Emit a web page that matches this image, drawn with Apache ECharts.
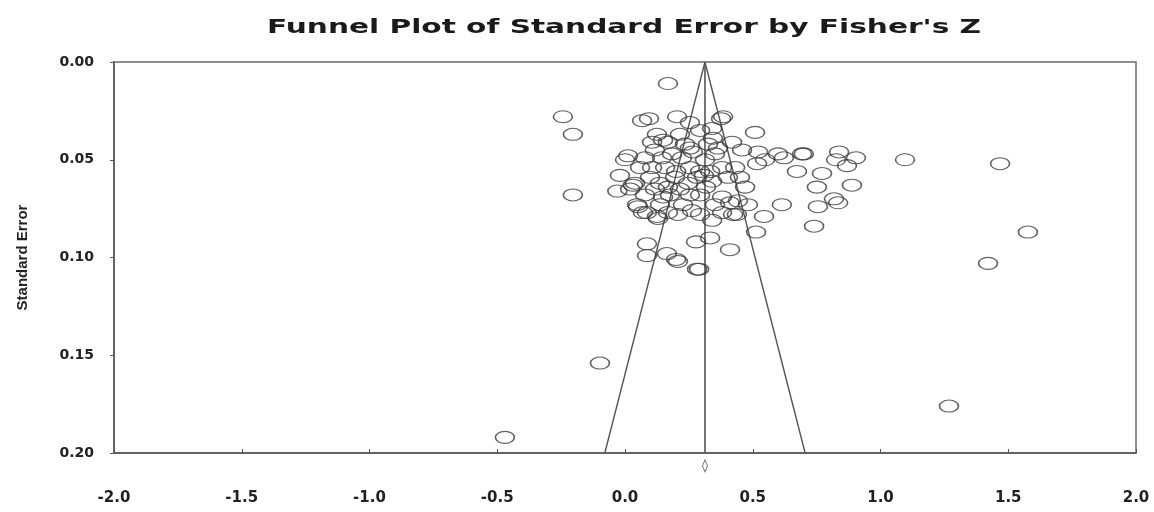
<!DOCTYPE html>
<html>
<head>
<meta charset="utf-8">
<script src="https://cdn.jsdelivr.net/npm/echarts@6/dist/echarts.min.js"></script>
<style>html,body{margin:0;padding:0;background:#fff;}#c{width:1154px;height:512px;}</style>
</head>
<body>
<div id="c"></div>
<script>
const fisherZ = [0.168,-0.243,-0.204,-0.204,1.468,1.096,1.577,1.421,1.268,-0.098,-0.470,0.384,0.376,0.509,0.521,0.548,0.599,0.622,0.693,0.700,0.838,0.904,0.826,0.869,0.673,0.771,0.751,0.888,0.818,0.834,0.755,0.614,0.544,0.513,0.740,0.423,0.470,0.517,0.333,0.411,0.086,0.086,0.164,0.200,0.207,0.278,0.282,0.290,0.067,0.094,0.204,0.254,0.344,0.125,0.149,0.106,0.168,0.012,0.254,0.266,0.078,0.145,0.184,0.223,0.059,0.106,0.157,0.313,0.352,0.380,0.039,0.196,0.247,0.341,0.403,0.020,0.031,0.051,0.086,0.129,0.149,0.176,0.047,0.070,0.125,0.438,0.411,0.227,0.262,0.294,0.317,0.352,0.380,0.450,0.431,0.458,0.419,0.364,0.325,0.294,0.254,0.215,0.254,0.117,0.078,0.137,0.168,0.207,0.294,0.341,0.380,0.442,0.481,-0.020,0.000,0.098,0.137,-0.030,0.294,0.341,0.215,0.235,0.117,0.282,0.309,0.200,0.168,0.333];
const standardError = [0.011,0.028,0.037,0.068,0.052,0.050,0.087,0.103,0.176,0.154,0.192,0.028,0.029,0.036,0.046,0.050,0.047,0.049,0.047,0.047,0.046,0.049,0.050,0.053,0.056,0.057,0.064,0.063,0.070,0.072,0.074,0.073,0.079,0.087,0.084,0.078,0.064,0.052,0.090,0.096,0.093,0.099,0.098,0.101,0.102,0.092,0.106,0.106,0.030,0.029,0.028,0.031,0.039,0.037,0.040,0.041,0.041,0.048,0.044,0.046,0.049,0.049,0.047,0.049,0.054,0.054,0.054,0.050,0.047,0.054,0.062,0.059,0.062,0.061,0.059,0.065,0.063,0.074,0.077,0.080,0.069,0.068,0.073,0.077,0.079,0.078,0.072,0.073,0.076,0.068,0.064,0.073,0.069,0.059,0.054,0.045,0.041,0.044,0.042,0.056,0.054,0.065,0.068,0.065,0.068,0.073,0.077,0.078,0.078,0.081,0.077,0.071,0.073,0.058,0.050,0.059,0.062,0.066,0.035,0.034,0.037,0.042,0.045,0.059,0.058,0.056,0.064,0.056];
const funnelZ = [-0.079, 0.313, 0.705];
const funnelSE = [0.2, 0, 0.2];
const centerZ = [0.313, 0.313];
const centerSE = [0, 0.2];
const summaryZ = [0.313];
const summarySE = [0.2066];
const xTickLabels = ['-2.0','-1.5','-1.0','-0.5','0.0','0.5','1.0','1.5','2.0'];
const yTickLabels = ['0.00','0.05','0.10','0.15','0.20'];

const pts = fisherZ.map((z, i) => [z, standardError[i]]);
const chart = echarts.init(document.getElementById('c'));
chart.setOption({
  animation: false,
  backgroundColor: '#fff',
  graphic: [{
    type: 'text',
    x: 624, y: 28,
    scaleX: 1.48,
    style: {
      text: "Funnel Plot of Standard Error by Fisher's Z",
      font: 'bold 20px "DejaVu Sans", Arial, sans-serif',
      fill: '#1a1a1a',
      align: 'center',
      verticalAlign: 'middle'
    }
  }],
  grid: {left: 114, right: 18, top: 62, bottom: 59, show: true, borderColor: '#6a6a6a', borderWidth: 1.5, backgroundColor: 'transparent'},
  xAxis: {
    type: 'value', min: -2, max: 2, interval: 0.5,
    axisLine: {show: true, onZero: false, lineStyle: {color: '#555', width: 1.5}},
    axisTick: {show: true, inside: true, length: 4, lineStyle: {color: '#555'}},
    splitLine: {show: false},
    axisLabel: {margin: 38, fontFamily: '"DejaVu Sans", Arial, sans-serif', fontWeight: 'bold', fontSize: 15, color: '#222',
      formatter: (v, i) => xTickLabels[i]}
  },
  yAxis: {
    type: 'value', inverse: true, min: 0, max: 0.2, interval: 0.05,
    name: 'Standard Error', nameLocation: 'middle', nameGap: 84, nameRotate: 90,
    nameTextStyle: {fontFamily: '"Liberation Sans Narrow", "Liberation Sans", Arial, sans-serif', fontWeight: 'bold', fontSize: 15, color: '#222'},
    axisLine: {show: true, onZero: false, lineStyle: {color: '#555', width: 1.5}},
    axisTick: {show: true, length: 4, lineStyle: {color: '#555'}},
    splitLine: {show: false},
    axisLabel: {margin: 20, fontFamily: '"DejaVu Sans", Arial, sans-serif', fontWeight: 'bold', fontSize: 14, color: '#222',
      formatter: (v, i) => yTickLabels[i]}
  },
  series: [
    {type: 'line', data: funnelZ.map((z, i) => [z, funnelSE[i]]), symbol: 'none',
      lineStyle: {color: '#555', width: 1.4}, z: 3},
    {type: 'line', data: centerZ.map((z, i) => [z, centerSE[i]]), symbol: 'none',
      lineStyle: {color: '#555', width: 1.6}, z: 3},
    {type: 'scatter', data: pts, symbol: 'circle', symbolSize: [19, 12],
      itemStyle: {color: 'rgba(0,0,0,0)', borderColor: '#3a3a3a', borderWidth: 1.3}, z: 4},
    {type: 'scatter', data: summaryZ.map((z, i) => [z, summarySE[i]]), symbol: 'diamond', symbolSize: [5, 12], clip: false,
      itemStyle: {color: 'rgba(0,0,0,0)', borderColor: '#444', borderWidth: 1}, z: 4}
  ]
});
</script>
</body>
</html>
